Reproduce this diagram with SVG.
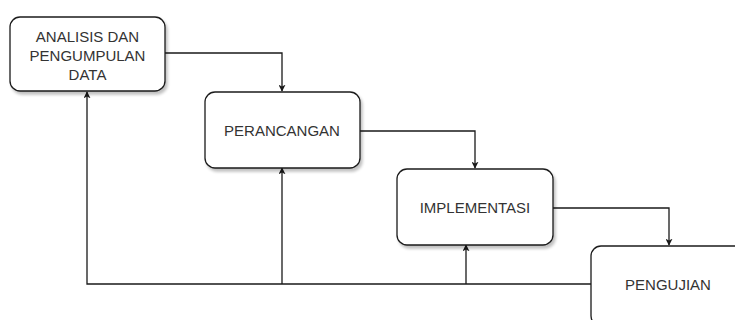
<svg xmlns="http://www.w3.org/2000/svg" width="735" height="320" viewBox="0 0 735 320">
<defs>
<style>
.box{fill:#ffffff;stroke:#1a1a1a;stroke-width:1.3;filter:url(#sh);}
.lbl{font-family:"Liberation Sans",Arial,sans-serif;font-size:15px;fill:#333333;text-anchor:middle;}
.con{fill:none;stroke:#1a1a1a;stroke-width:1.3;}
</style>
<filter id="sh" x="-10%" y="-10%" width="130%" height="130%">
<feGaussianBlur in="SourceAlpha" stdDeviation="1.5"/>
<feOffset dx="2" dy="3" result="b"/>
<feComponentTransfer><feFuncA type="linear" slope="0.25"/></feComponentTransfer>
<feMerge><feMergeNode/><feMergeNode in="SourceGraphic"/></feMerge>
</filter>
<marker id="arr" viewBox="0 0 10 10" refX="9" refY="5" markerWidth="7" markerHeight="7" orient="auto" markerUnits="userSpaceOnUse">
<path d="M0,0 L10,5 L0,10 L2.5,5 z" fill="#1a1a1a"/>
</marker>
</defs>
<rect width="735" height="320" fill="#ffffff"/>
<g id="connectors">
<path class="con" d="M165,53 H282 V91" marker-end="url(#arr)"/>
<path class="con" d="M360,131 H475 V168" marker-end="url(#arr)"/>
<path class="con" d="M553,208 H669 V245" marker-end="url(#arr)"/>
<path class="con" d="M591,284 H87 V92" marker-end="url(#arr)"/>
<path class="con" d="M282,284 V168" marker-end="url(#arr)"/>
<path class="con" d="M466,284 V245" marker-end="url(#arr)"/>
</g>
<g id="analisis">
<rect class="box" x="10" y="17" width="155" height="74" rx="10"/>
<text class="lbl" x="87.5" y="42">ANALISIS DAN</text>
<text class="lbl" x="87.5" y="61">PENGUMPULAN</text>
<text class="lbl" x="87.5" y="80">DATA</text>
</g>
<g id="perancangan">
<rect class="box" x="205" y="92" width="155" height="76" rx="10"/>
<text class="lbl" x="282" y="135.5">PERANCANGAN</text>
</g>
<g id="implementasi">
<rect class="box" x="397" y="169" width="156" height="76" rx="10"/>
<text class="lbl" x="475" y="213">IMPLEMENTASI</text>
</g>
<g id="pengujian">
<rect class="box" x="591" y="246" width="158" height="80" rx="10"/>
<text class="lbl" x="668" y="290">PENGUJIAN</text>
</g>
</svg>
